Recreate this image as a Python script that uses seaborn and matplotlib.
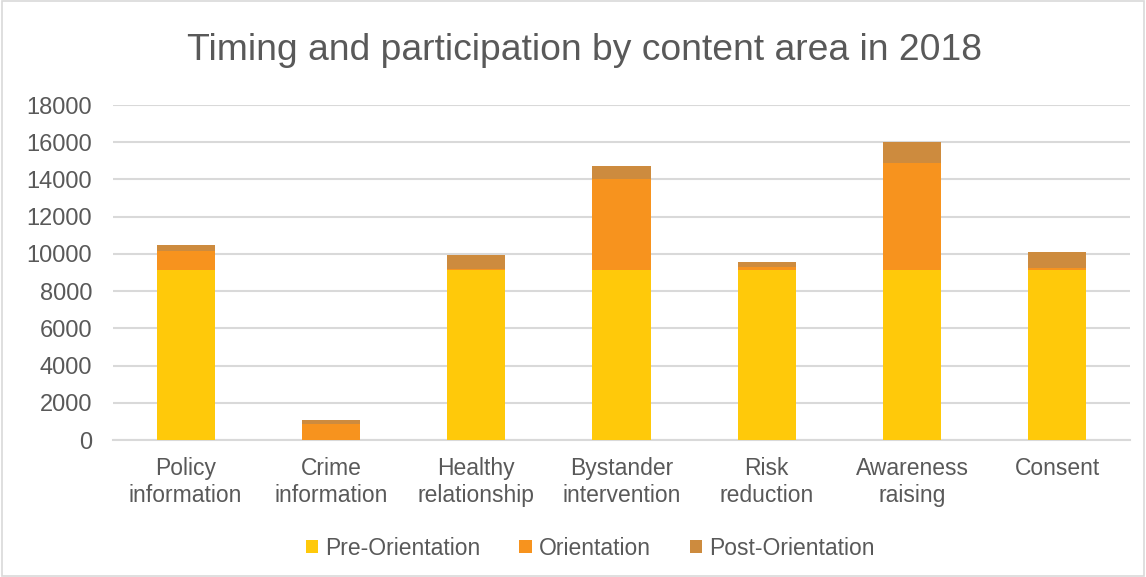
import matplotlib
matplotlib.use("Agg")
import matplotlib.pyplot as plt
import seaborn as sns
import pandas as pd
import numpy as np
from matplotlib.patches import Rectangle, Patch

categories = ["Policy\ninformation", "Crime\ninformation", "Healthy\nrelationship",
              "Bystander\nintervention", "Risk\nreduction", "Awareness\nraising", "Consent"]
pre_orientation = [9150, 0, 9150, 9150, 9150, 9150, 9150]
orientation = [1030, 870, 30, 4850, 130, 5730, 100]
post_orientation = [300, 220, 750, 750, 270, 1110, 870]
series_names = ["Pre-Orientation", "Orientation", "Post-Orientation"]
colors = ["#FFC90A", "#F7931E", "#CD8B3E"]
yticks = [0, 2000, 4000, 6000, 8000, 10000, 12000, 14000, 16000, 18000]

sns.set_theme(style="white")
plt.rcParams['font.family'] = ['Liberation Sans', 'DejaVu Sans']
text_color = "#595959"

pre = np.array(pre_orientation)
ori = np.array(orientation)
post = np.array(post_orientation)
df = pd.DataFrame({
    "category": categories,
    "total": pre + ori + post,
    "pre_ori": pre + ori,
    "pre": pre,
})

fig = plt.figure(figsize=(11.46, 5.77), dpi=100)
ax = fig.add_axes([0.0986, 0.2374, 0.8874, 0.5806])

for col, c in zip(["total", "pre_ori", "pre"], colors[::-1]):
    sns.barplot(data=df, x="category", y=col, color=c, width=0.4, ax=ax,
                saturation=1, edgecolor="none", zorder=3)

ax.set_ylim(0, 18000)
ax.set_xlim(-0.5, 6.5)
ax.set_yticks(yticks)
ax.set_yticklabels([str(v) for v in yticks])
ax.yaxis.grid(True, color="#D9D9D9", linewidth=1.5, zorder=0)
ax.set_axisbelow(True)
for s in ["top", "right", "left"]:
    ax.spines[s].set_visible(False)
ax.spines["bottom"].set_color("#D9D9D9")
ax.spines["bottom"].set_linewidth(1.5)
ax.tick_params(axis="y", length=0, labelsize=17, colors=text_color, pad=15)
ax.tick_params(axis="x", length=0, labelsize=16.5, colors=text_color, pad=12)
ax.set_xlabel("")
ax.set_ylabel("")
for lab in ax.get_xticklabels():
    lab.set_linespacing(1.25)

fig.text(0.51, 0.913, "Timing and participation by content area in 2018",
         ha="center", va="center", fontsize=26.8, color=text_color)

handles = [Patch(facecolor=c, edgecolor="none", label=n) for c, n in zip(colors, series_names)]
fig.legend(handles=handles, loc="center", bbox_to_anchor=(0.515, 0.05), ncol=3,
           frameon=False, fontsize=16.5, labelcolor=text_color, handlelength=0.55,
           handleheight=0.55, handletextpad=0.3, columnspacing=1.7)

fig.patches.append(Rectangle((0.002, 0.002), 0.996, 0.996, transform=fig.transFigure,
                             fill=False, edgecolor="#D9D9D9", linewidth=1.2))

fig.savefig("out.png", dpi=100)
